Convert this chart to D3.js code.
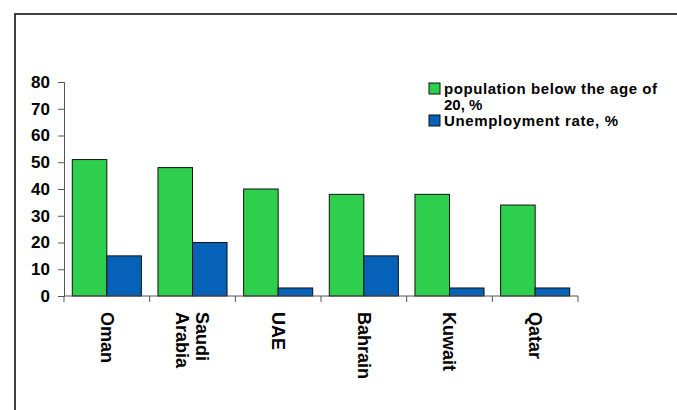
<!DOCTYPE html>
<html>
<head>
<meta charset="utf-8">
<script src="https://cdn.jsdelivr.net/npm/d3@7"></script>
<style>
  body { margin: 0; background: #fff; }
  svg { display: block; font-family: Arial, "Liberation Sans", sans-serif; font-weight: bold; }
</style>
</head>
<body>
<div id="chart"></div>
<script>
// Data
const countries = [["Oman"], ["Saudi", "Arabia"], ["UAE"], ["Bahrain"], ["Kuwait"], ["Qatar"]];
const seriesNames = ["population below the age of 20, %", "Unemployment rate, %"];
const youthShare = [51, 48, 40, 38, 38, 34];
const unemployment = [15, 20, 3, 15, 3, 3];
const yTicks = [0, 10, 20, 30, 40, 50, 60, 70, 80];
const colors = ["#2ecf4c", "#0562b8"];

const width = 677,
  height = 410;

const svg = d3
  .select("#chart")
  .append("svg")
  .attr("width", width)
  .attr("height", height);

// outer frame (clipped at right and bottom like the source image)
svg
  .append("rect")
  .attr("x", 15)
  .attr("y", 14)
  .attr("width", 800)
  .attr("height", 500)
  .attr("fill", "none")
  .attr("stroke", "#111")
  .attr("stroke-width", 1.6);

const plot = { left: 64, right: 578, top: 82, bottom: 296 };

const keys = countries.map((c) => c.join(" "));
const x = d3.scaleBand().domain(keys).range([plot.left, plot.right]).padding(0);
const xInner = d3
  .scaleBand()
  .domain([0, 1])
  .range([0, x.bandwidth()])
  .paddingInner(0)
  .paddingOuter(0.24);
const y = d3.scaleLinear().domain([0, 80]).range([plot.bottom, plot.top]);

// y axis
const yAxis = svg
  .append("g")
  .attr("transform", `translate(${plot.left},0)`)
  .call(d3.axisLeft(y).tickValues(yTicks).tickSize(6).tickPadding(8));
yAxis.select(".domain").attr("stroke", "#555");
yAxis.selectAll(".tick line").attr("stroke", "#555");
yAxis
  .selectAll(".tick text")
  .attr("font-size", "17px")
  .attr("font-family", "Arial, 'Liberation Sans', sans-serif")
  .attr("font-weight", "bold")
  .attr("fill", "#000");

// bars
const rows = keys.map((k, i) => ({ key: k, values: [youthShare[i], unemployment[i]] }));
const groups = svg
  .selectAll(".grp")
  .data(rows)
  .join("g")
  .attr("class", "grp")
  .attr("transform", (d) => `translate(${x(d.key)},0)`);
groups
  .selectAll("rect")
  .data((d) => d.values.map((v, j) => ({ v, j })))
  .join("rect")
  .attr("x", (d) => xInner(d.j))
  .attr("width", xInner.bandwidth())
  .attr("y", (d) => y(d.v))
  .attr("height", (d) => y(0) - y(d.v))
  .attr("fill", (d) => colors[d.j])
  .attr("stroke", "#111")
  .attr("stroke-width", 1);

// x axis
const xAxis = svg
  .append("g")
  .attr("transform", `translate(0,${plot.bottom})`);
xAxis
  .append("line")
  .attr("x1", plot.left)
  .attr("x2", plot.right)
  .attr("stroke", "#555");
xAxis
  .selectAll(".xt")
  .data(d3.range(keys.length + 1))
  .join("line")
  .attr("class", "xt")
  .attr("x1", (i) => plot.left + i * x.step())
  .attr("x2", (i) => plot.left + i * x.step())
  .attr("y1", 0)
  .attr("y2", 6)
  .attr("stroke", "#555");

// rotated category labels
const labels = svg
  .selectAll(".xl")
  .data(countries)
  .join("text")
  .attr("class", "xl")
  .attr("transform", (d, i) => `translate(${x(keys[i]) + x.bandwidth() / 2},312) rotate(90)`)
  .attr("font-size", "18px")
  .attr("fill", "#000");
labels
  .selectAll("tspan")
  .data((d) => d.map((t, k) => ({ t, k, n: d.length })))
  .join("tspan")
  .attr("x", 0)
  .attr("y", (d) => (d.k - (d.n - 1) / 2) * 20)
  .attr("dy", "0.35em")
  .text((d) => d.t);

// legend (second item's text stretched a little like the source)
const legendLines = [["population below the age of", "20, %"], ["Unemployment rate, %"]];
const legendWidths = { "population below the age of": 213, "Unemployment rate, %": 174 };
const legend = svg.append("g").attr("font-size", "15px");
let lineY = 94;
legendLines.forEach((lines, j) => {
  legend
    .append("rect")
    .attr("x", 429)
    .attr("y", lineY - 11)
    .attr("width", 11)
    .attr("height", 11)
    .attr("fill", colors[j])
    .attr("stroke", "#111")
    .attr("stroke-width", 1);
  lines.forEach((t) => {
    legend
      .append("text")
      .attr("x", 444)
      .attr("y", lineY)
      .attr("fill", "#000")
      .attr("textLength", legendWidths[t] || null)
      .text(t);
    lineY += 16;
  });
});
</script>
</body>
</html>
